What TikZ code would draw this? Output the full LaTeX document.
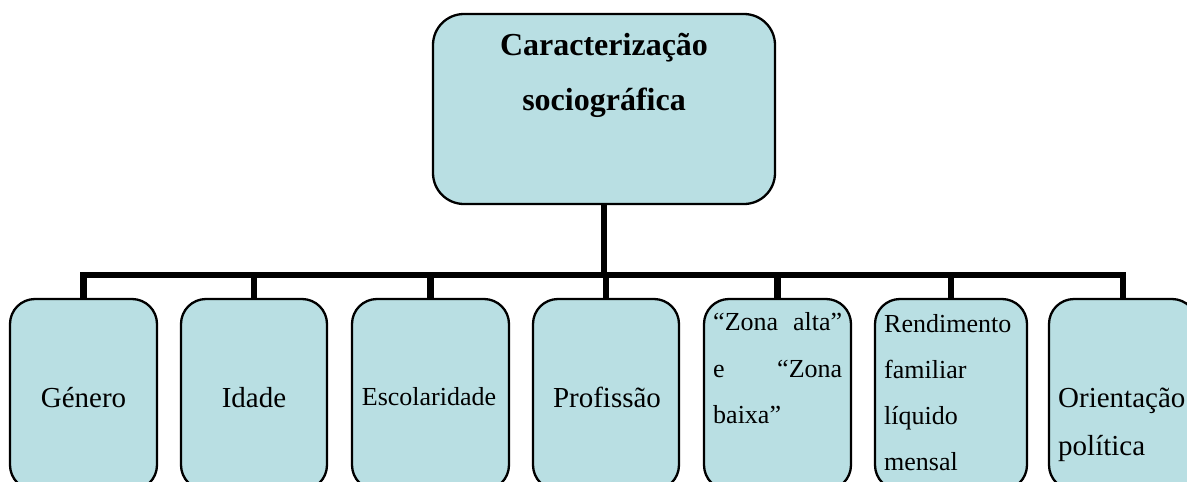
\documentclass[tikz,border=0pt]{standalone}
\usepackage{fontspec}
\setmainfont{Liberation Serif}
\definecolor{boxfill}{RGB}{185,223,227}
\tikzset{
  topbox/.style={draw=black, line width=2.3pt, fill=boxfill, rounded corners=31pt, inner sep=0pt},
  leafbox/.style={draw=black, line width=2.3pt, fill=boxfill, rounded corners=25pt, inner sep=0pt, minimum height=191pt},
  conn/.style={draw=black, line width=6.5pt, line join=miter},
  toptext/.style={font=\fontsize{32}{55}\selectfont\bfseries, inner sep=0pt},
  leaftext/.style={font=\fontsize{29}{46}\selectfont, inner sep=0pt},
  smalltext/.style={font=\fontsize{26}{40}\selectfont, inner sep=0pt}
}
\begin{document}
\begin{tikzpicture}[x=1pt,y=-1pt]
\useasboundingbox (0,0) rectangle (1187,482);
\clip (0,0) rectangle (1187,482);
\node[topbox, minimum width=342pt, minimum height=190pt] (top) at (604,109) {};
\node[leafbox, minimum width=147pt] (b1) at (83.5,394.5) {};
\node[leafbox, minimum width=146pt] (b2) at (254,394.5) {};
\node[leafbox, minimum width=157pt] (b3) at (430.5,394.5) {};
\node[leafbox, minimum width=146pt] (b4) at (606,394.5) {};
\node[leafbox, minimum width=147pt] (b5) at (777.5,394.5) {};
\node[leafbox, minimum width=152pt] (b6) at (951,394.5) {};
\node[leafbox, minimum width=148pt] (b7) at (1123,394.5) {};
\coordinate (bar) at (0,275);
\draw[conn] (top.south) -- (top.south |- bar);
\draw[conn] (b1.north) -- (b1.north |- bar) -- (b7.north |- bar) -- (b7.north);
\foreach \b in {b2,b3,b4,b5,b6} \draw[conn] (\b.north) -- (\b.north |- bar);
% texts
\node[toptext, anchor=base] (t1) at (604,55) {Caracterização};
\node[toptext, anchor=base] (t2) at (604,110) {sociográfica};
\node[leaftext, anchor=base] (l1) at (83.5,407) {Género};
\node[leaftext, anchor=base] (l2) at (254,407) {Idade};
\node[smalltext, anchor=base] (l3) at (429,405) {Escolaridade};
\node[leaftext, anchor=base] (l4) at (607,407) {Profissão};
\node[smalltext, anchor=base west] (z1) at (713,330) {\makebox[129pt][l]{“Zona\hfill alta”}};
\node[smalltext, anchor=base west] (z2) at (713,377) {\makebox[129pt][l]{e\hfill “Zona}};
\node[smalltext, anchor=base west] (z3) at (713,423) {baixa”};
\node[smalltext, anchor=base west] (r1) at (884,332) {Rendimento};
\node[smalltext, anchor=base west] (r2) at (884,378) {familiar};
\node[smalltext, anchor=base west] (r3) at (884,424) {líquido};
\node[smalltext, anchor=base west] (r4) at (884,470) {mensal};
\node[leaftext, anchor=base west] (o1) at (1058,407) {Orientação};
\node[leaftext, anchor=base west] (o2) at (1058,455) {política};
\end{tikzpicture}
\end{document}
